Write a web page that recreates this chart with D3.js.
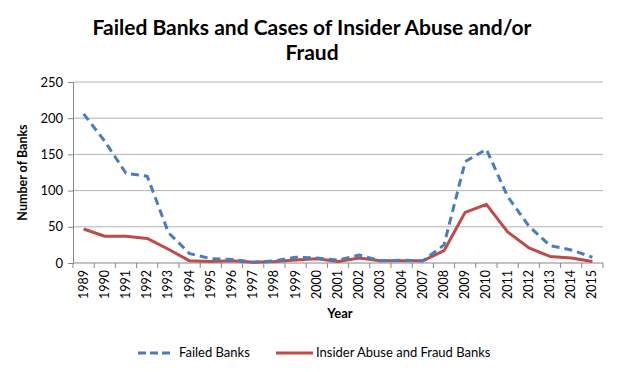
<!DOCTYPE html>
<html>
<head>
<meta charset="utf-8">
<script src="https://cdn.jsdelivr.net/npm/d3@7"></script>
<style>
  body { margin: 0; background: #fff; }
  svg { font-family: Lato, "Open Sans", sans-serif; }
</style>
</head>
<body>
<svg id="chart" width="622" height="372"></svg>
<script>
// Years on the axis (2005 and 2006 are not in the source table)
const years = ['1989','1990','1991','1992','1993','1994','1995','1996','1997','1998','1999','2000',
  '2001','2002','2003','2004','2007','2008','2009','2010','2011','2012','2013','2014','2015'];
const failedBanks = [206,168,124,120,42,13,6,5,1,3,8,7,4,11,3,4,3,25,140,157,92,51,24,18,8];
const insiderBanks = [47,37,37,34,19,3,2,3,1,2,4,6,2,7,3,3,3,17,70,81,43,21,9,7,2];
const yTicks = [0,50,100,150,200,250];

const svg = d3.select('#chart');
const plotL = 73, plotR = 603, plotT = 82, plotB = 263;

const x = d3.scaleBand().domain(years).range([plotL, plotR]);
const y = d3.scaleLinear().domain([0, 250]).range([plotB, plotT]);

// Title
const title = svg.append('text')
  .attr('text-anchor', 'middle')
  .attr('font-weight', 'bold')
  .attr('font-size', 21)
  .attr('fill', '#000');
title.append('tspan').attr('x', 312).attr('y', 35).text('Failed Banks and Cases of Insider Abuse and/or');
title.append('tspan').attr('x', 312).attr('y', 60).text('Fraud');

// Gridlines
svg.append('g').selectAll('line')
  .data(yTicks.filter(t => t > 0))
  .join('line')
  .attr('x1', plotL).attr('x2', plotR)
  .attr('y1', d => y(d)).attr('y2', d => y(d))
  .attr('stroke', '#b3b3b3').attr('stroke-width', 1);

// Y axis
const yAxis = svg.append('g')
  .attr('transform', `translate(${plotL},0)`)
  .call(d3.axisLeft(y).tickValues(yTicks).tickSize(5).tickPadding(5));
yAxis.select('.domain').attr('stroke', '#868686');
yAxis.selectAll('.tick line').attr('stroke', '#868686');
yAxis.selectAll('.tick text').attr('font-size', 13).attr('fill', '#000')
  .attr('font-family', 'Lato, sans-serif');

// X axis: ticks at category boundaries
const xg = svg.append('g').attr('transform', `translate(0,${plotB})`);
xg.append('line').attr('x1', plotL).attr('x2', plotR)
  .attr('stroke', '#868686');
xg.selectAll('.bnd')
  .data(years.concat(['end']))
  .join('line')
  .attr('x1', (d, i) => plotL + i * x.step())
  .attr('x2', (d, i) => plotL + i * x.step())
  .attr('y1', 0).attr('y2', 5)
  .attr('stroke', '#868686');
xg.selectAll('text')
  .data(years)
  .join('text')
  .attr('transform', d => `translate(${x(d) + x.bandwidth() / 2 + 4},7) rotate(-90)`)
  .attr('text-anchor', 'end')
  .attr('font-size', 12.5)
  .attr('fill', '#000')
  .text(d => d);

// Axis titles
svg.append('text')
  .attr('transform', `translate(27,${(plotT + plotB) / 2}) rotate(-90)`)
  .attr('text-anchor', 'middle')
  .attr('font-weight', 'bold').attr('font-size', 12.5)
  .text('Number of Banks');
svg.append('text')
  .attr('x', 340).attr('y', 318)
  .attr('text-anchor', 'middle')
  .attr('font-weight', 'bold').attr('font-size', 13)
  .text('Year');

// Lines
const line = d3.line()
  .x((d, i) => x(years[i]) + x.bandwidth() / 2)
  .y(d => y(d));

svg.append('path')
  .datum(insiderBanks)
  .attr('d', line)
  .attr('fill', 'none')
  .attr('stroke', '#be4b48')
  .attr('stroke-width', 3)
  .attr('stroke-linejoin', 'round');

svg.append('path')
  .datum(failedBanks)
  .attr('d', line)
  .attr('fill', 'none')
  .attr('stroke', '#4a7ebb')
  .attr('stroke-width', 3)
  .attr('stroke-dasharray', '8,5')
  .attr('stroke-linejoin', 'round');

// Legend
const lg = svg.append('g').attr('font-size', 13);
lg.append('line').attr('x1', 138).attr('x2', 171).attr('y1', 353).attr('y2', 353)
  .attr('stroke', '#4a7ebb').attr('stroke-width', 3).attr('stroke-dasharray', '8,4');
lg.append('text').attr('x', 179).attr('y', 357).text('Failed Banks');
lg.append('line').attr('x1', 276).attr('x2', 313).attr('y1', 353).attr('y2', 353)
  .attr('stroke', '#be4b48').attr('stroke-width', 3);
lg.append('text').attr('x', 316).attr('y', 357).text('Insider Abuse and Fraud Banks');
</script>
</body>
</html>
